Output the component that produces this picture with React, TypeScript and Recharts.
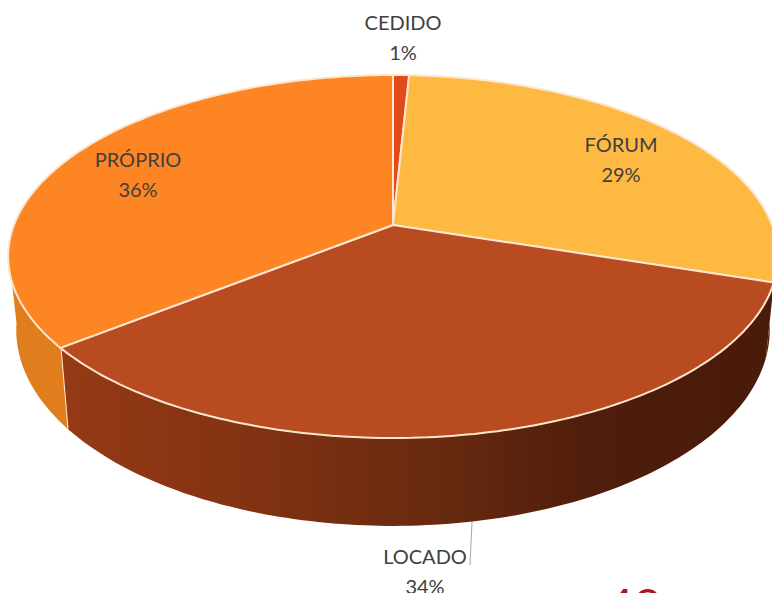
import React from 'react';
import { PieChart, Pie } from 'recharts';

const categories = ['CEDIDO', 'FÓRUM', 'LOCADO', 'PRÓPRIO'];
const shares = [0.8, 29.2, 34.3, 35.7];
const percentLabels = ['1%', '29%', '34%', '36%'];

const topColors = ['#e2491b', '#fdb942', '#b84c20', '#fe8523'];
const wallColors = ['#b03a14', '#5a2410', 'url(#locadoWall)', '#e07d1c'];

// label centres relative to the pie centre, px
const labelOffsets: Record<string, [number, number]> = {
    'CEDIDO': [10, -187],
    'FÓRUM': [228, -65],
    'LOCADO': [32, 347],
    'PRÓPRIO': [-255, -50],
};

const chartData = categories.map((name, i) => ({ name, value: shares[i], label: percentLabels[i] }));

const CX = 393;
const CY = 225;
const RADIUS = 379;

// Excel-style tilted pie: the disc is foreshortened and the back edge shrinks
const TILT_K = 0.1736;
const TOP_SQUASH = 176 / 379;
const BOTTOM_CY = 296;
const BOTTOM_RADIUS = 371;
const BOTTOM_SQUASH = 190 / 379;

const WALL_FROM = 98;
const WALL_TO = 262;

const rad = (a: number) => (a * Math.PI) / 180;

const onDisc = (clockDeg: number, lower: boolean): [number, number] => {
    const X = Math.sin(rad(clockDeg));
    const Y = Math.cos(rad(clockDeg));
    const w = 1 + TILT_K * Y;
    if (lower) {
        return [CX + (BOTTOM_RADIUS * X) / w, BOTTOM_CY - (RADIUS * BOTTOM_SQUASH * Y) / w];
    }
    return [CX + (RADIUS * X) / w, CY - (RADIUS * TOP_SQUASH * Y) / w];
};

const rimPoints = (from: number, to: number, lower: boolean) => {
    const steps = Math.max(2, Math.ceil(Math.abs(to - from)));
    const pts: [number, number][] = [];
    for (let i = 0; i <= steps; i++) {
        pts.push(onDisc(from + ((to - from) * i) / steps, lower));
    }
    return pts;
};

const toPath = (pts: [number, number][]) =>
    pts.map((p, i) => `${i === 0 ? 'M' : 'L'}${p[0].toFixed(1)},${p[1].toFixed(1)}`).join(' ');

const TopFace = (props: any) => {
    const from = 90 - props.startAngle;
    const to = 90 - props.endAngle;
    const d = `M${CX},${CY} ${toPath(rimPoints(from, to, false)).replace('M', 'L')} Z`;
    return <path d={d} fill={topColors[props.index]} stroke="#fbe6cf" strokeWidth={2} strokeLinejoin="round" />;
};

const SideWall = (props: any) => {
    const rawFrom = 90 - props.startAngle;
    const rawTo = 90 - props.endAngle;
    const from = Math.max(rawFrom, WALL_FROM);
    const to = Math.min(rawTo, WALL_TO);
    if (to <= from) return null;
    const upper = rimPoints(from, to, false);
    const lower = rimPoints(from, to, true).reverse();
    const showSeam = rawTo < WALL_TO && rawTo > 180;
    const seamTop = onDisc(rawTo, false);
    const seamBottom = onDisc(rawTo, true);
    return (
        <g>
            <path d={`${toPath([...upper, ...lower])} Z`} fill={wallColors[props.index]} />
            {showSeam && (
                <line x1={seamTop[0]} y1={seamTop[1]} x2={seamBottom[0]} y2={seamBottom[1]} stroke="#fbe6cf" strokeWidth={2} />
            )}
        </g>
    );
};

const SliceLabel = (props: any) => {
    const name = props.name ?? props.payload?.name;
    const [dx, dy] = labelOffsets[name];
    const x = CX + dx;
    const y = CY + dy;
    return (
        <g>
            {name === 'LOCADO' && (
                <line x1={472} y1={522} x2={470} y2={565} stroke="#a6a6a6" strokeWidth={1} />
            )}
            <text x={x} y={y - 8} textAnchor="middle" fill="#404040" fontSize={20} fontFamily="Lato, 'Open Sans', sans-serif">
                {name}
            </text>
            <text x={x} y={y + 22} textAnchor="middle" fill="#404040" fontSize={20} fontFamily="Lato, 'Open Sans', sans-serif">
                {props.payload?.label ?? props.label}
            </text>
        </g>
    );
};

export default function App() {
    return (
        <div style={{ position: 'absolute', left: 0, top: 0, width: 772, height: 593, overflow: 'hidden', background: '#ffffff' }}>
            <PieChart width={772} height={593} margin={{ top: 0, right: 0, bottom: 0, left: 0 }}>
                <defs>
                    <linearGradient id="locadoWall" gradientUnits="userSpaceOnUse" x1={60} y1={0} x2={772} y2={0}>
                        <stop offset="0%" stopColor="#953a15" />
                        <stop offset="30%" stopColor="#7f3112" />
                        <stop offset="55%" stopColor="#66290f" />
                        <stop offset="75%" stopColor="#4e1d0b" />
                        <stop offset="100%" stopColor="#4a1a0a" />
                    </linearGradient>
                </defs>
                <Pie
                    data={chartData}
                    dataKey="value"
                    nameKey="name"
                    cx={CX}
                    cy={CY}
                    outerRadius={RADIUS}
                    startAngle={90}
                    endAngle={-270}
                    stroke="none"
                    shape={SideWall}
                    isAnimationActive={false}
                />
                <Pie
                    data={chartData}
                    dataKey="value"
                    nameKey="name"
                    cx={CX}
                    cy={CY}
                    outerRadius={RADIUS}
                    startAngle={90}
                    endAngle={-270}
                    stroke="none"
                    shape={TopFace}
                    label={SliceLabel}
                    labelLine={false}
                    isAnimationActive={false}
                />
                <text x={606} y={624} fill="#b0141e" fontSize={48} fontFamily="Lato, sans-serif">48</text>
            </PieChart>
        </div>
    );
}
